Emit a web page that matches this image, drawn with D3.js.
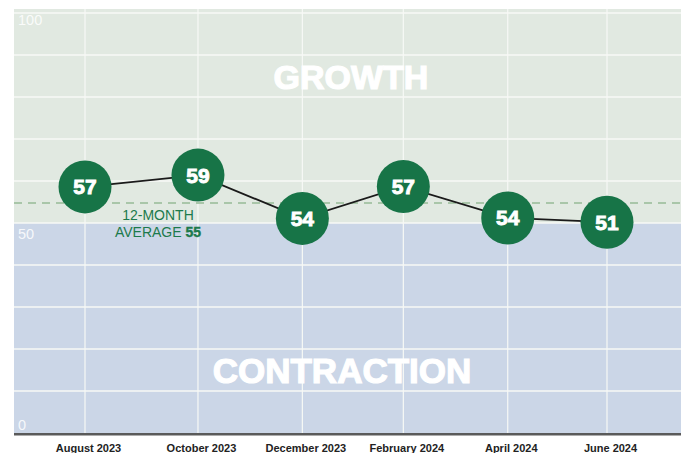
<!DOCTYPE html>
<html><head><meta charset="utf-8">
<script src="https://cdn.jsdelivr.net/npm/d3@7"></script>
<style>
body{margin:0;background:#fff;}
svg{display:block;font-family:"Liberation Sans",Arial,sans-serif;}
</style></head>
<body><svg id="c" width="685" height="453"></svg>
<script>
// Data
const categories = ["August 2023","October 2023","December 2023","February 2024","April 2024","June 2024"];
const dates = ["2023-08-01","2023-10-06","2023-12-06","2024-02-03","2024-04-04","2024-06-01"];
const values = [58.6, 61.4, 51.1, 58.7, 51.2, 50.2];   // plotted position
const labels = ["57","59","54","57","54","51"];          // printed value
const average = 55;
const yTicks = [0,10,20,30,40,50,60,70,80,90,100];
const yLabelTicks = [100,50,0];

const svg = d3.select("#c");
const L = 14, R = 681, T = 9;
const parse = d3.timeParse("%Y-%m-%d");
const x = d3.scaleTime().domain([parse(dates[0]), parse(dates[dates.length-1])]).range([85, 607]);
const y = d3.scaleLinear().domain([0,100]).range([433, 13]);

// backgrounds
svg.append("rect").attr("x",L).attr("y",T).attr("width",R-L).attr("height",y(50)-T).attr("fill","#e1e9e1");
svg.append("rect").attr("x",L).attr("y",y(50)).attr("width",R-L).attr("height",y(0)-y(50)).attr("fill","#cbd6e7");

// gridlines
svg.append("g").selectAll("line").data(yTicks.filter(d=>d>0)).join("line")
  .attr("x1",L).attr("x2",R).attr("y1",d=>y(d)).attr("y2",d=>y(d))
  .attr("stroke","#f7f9f6").attr("stroke-width",1.5);
svg.append("g").selectAll("line").data(dates).join("line")
  .attr("x1",d=>x(parse(d))).attr("x2",d=>x(parse(d))).attr("y1",T).attr("y2",y(0))
  .attr("stroke","#f7f9f6").attr("stroke-width",1.2);

// y labels
svg.append("g").selectAll("text").data(yLabelTicks).join("text")
  .attr("x",18).attr("y",d=> d===0 ? y(0)-3 : (d===100 ? 24.5 : y(d)+16))
  .attr("fill","#ffffff").attr("fill-opacity",0.85).attr("font-size",14.5)
  .text(d=>d);

// zone titles
svg.append("text").attr("x",351).attr("y",89).attr("text-anchor","middle")
  .attr("font-size",34).attr("font-weight","bold").attr("fill","#fff")
  .attr("stroke","#fff").attr("stroke-width",1.2).text("GROWTH");
svg.append("text").attr("x",342).attr("y",383).attr("text-anchor","middle")
  .attr("font-size",35).attr("font-weight","bold").attr("fill","#fff")
  .attr("stroke","#fff").attr("stroke-width",1.2).text("CONTRACTION");

// average line
svg.append("line").attr("x1",L).attr("x2",R).attr("y1",y(average)+1).attr("y2",y(average)+1)
  .attr("stroke","#a9c6a9").attr("stroke-width",1.8).attr("stroke-dasharray","8,6");
const avg = svg.append("text").attr("text-anchor","middle").attr("fill","#1c7a4c").attr("font-size",14);
avg.append("tspan").attr("x",158).attr("y",220).text("12-MONTH");
avg.append("tspan").attr("x",158).attr("y",236.5).text("AVERAGE ");
avg.append("tspan").attr("font-weight","bold").attr("stroke","#1c7a4c").attr("stroke-width",0.4).text(average);

// axis
const xAxis = d3.axisBottom(x).tickValues(dates.map(parse)).tickSize(0)
  .tickFormat((d,i)=>categories[i]);
const ax = svg.append("g").attr("transform",`translate(0,${y(0)})`).call(xAxis);
ax.select(".domain").remove();
ax.selectAll("text").attr("dy",0).attr("y",18.5).attr("dx",3)
  .attr("font-size",11).attr("font-weight","bold").attr("fill","#222")
  .attr("font-family","'Liberation Sans',Arial,sans-serif");
svg.append("line").attr("x1",L).attr("x2",R).attr("y1",y(0)+1.2).attr("y2",y(0)+1.2)
  .attr("stroke","#5a5a5a").attr("stroke-width",2.5);

// line
const pts = dates.map((d,i)=>[x(parse(d)), y(values[i])]);
svg.append("path").attr("d",d3.line()(pts)).attr("fill","none").attr("stroke","#1a1a1a").attr("stroke-width",1.8);

// circles
const g = svg.append("g").selectAll("g").data(pts).join("g").attr("transform",d=>`translate(${d[0]},${d[1]})`);
g.append("circle").attr("r",26.5).attr("fill","#177447");
g.append("text").attr("text-anchor","middle").attr("y",7.5).attr("font-size",21)
  .attr("font-weight","bold").attr("fill","#fff").attr("stroke","#fff").attr("stroke-width",0.9)
  .text((d,i)=>labels[i]);
</script></body></html>
